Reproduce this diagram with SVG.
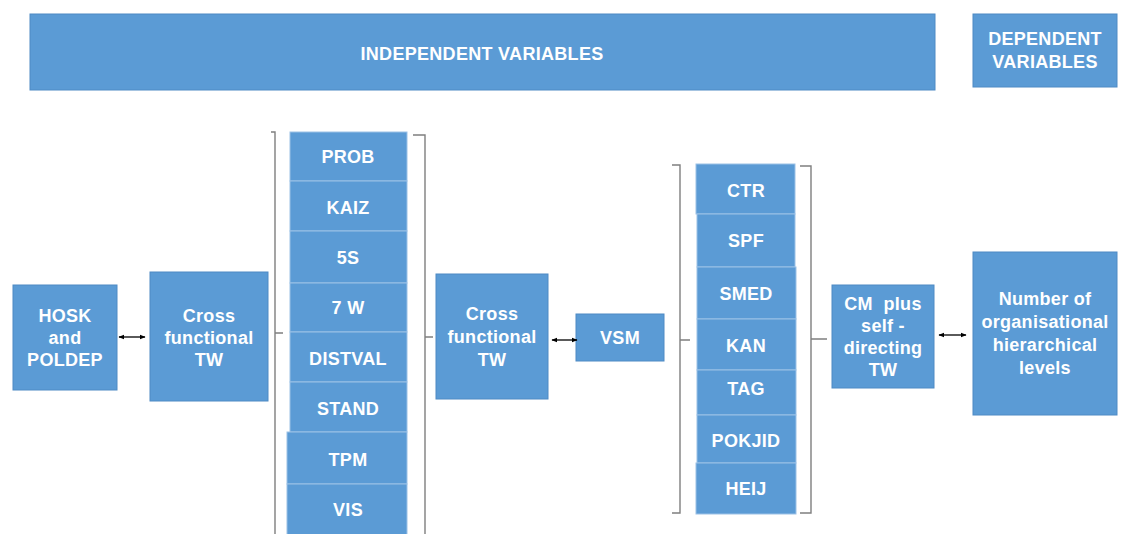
<svg xmlns="http://www.w3.org/2000/svg" width="1136" height="534" viewBox="0 0 1136 534">
  <style>
    .box { fill: #5b9bd5; stroke: #4e8ac4; stroke-width: 1; }
    .cell { fill: #5b9bd5; stroke: #9cc1e6; stroke-width: 1; }
    .lbl { font-family: "Liberation Sans", Arial, sans-serif; font-weight: bold; font-size: 18px; letter-spacing: 0.3px; fill: #ffffff; text-anchor: middle; }
    .brace { fill: none; stroke: #7f7f7f; stroke-width: 1.4; }
    .link { fill: none; stroke: #000000; stroke-width: 1.3; marker-start: url(#head); marker-end: url(#head); }
  </style>
  <defs>
    <marker id="head" viewBox="0 0 10 10" refX="9" refY="5" markerWidth="6" markerHeight="6" orient="auto-start-reverse" markerUnits="userSpaceOnUse">
      <path d="M0,1 L10,5 L0,9 z" fill="#000000"/>
    </marker>
  </defs>
  <rect width="1136" height="534" fill="#ffffff"/>

  <!-- headers -->
  <g id="independent">
    <rect class="box" x="30" y="14" width="905" height="76"/>
    <text class="lbl" x="482" y="60">INDEPENDENT VARIABLES</text>
  </g>
  <g id="dependent">
    <rect class="box" x="973" y="14" width="144" height="73"/>
    <text class="lbl" x="1045" y="45">DEPENDENT</text>
    <text class="lbl" x="1045" y="68">VARIABLES</text>
  </g>

  <!-- left side -->
  <g id="hosk">
    <rect class="box" x="13" y="285" width="104" height="105"/>
    <text class="lbl" x="65" y="322">HOSK</text>
    <text class="lbl" x="65" y="344">and</text>
    <text class="lbl" x="65" y="366">POLDEP</text>
  </g>
  <g id="cftw1">
    <rect class="box" x="150" y="272" width="118" height="129"/>
    <text class="lbl" x="209" y="322">Cross</text>
    <text class="lbl" x="209" y="344">functional</text>
    <text class="lbl" x="209" y="366">TW</text>
  </g>

  <!-- first practice stack -->
  <g id="stack1">
    <g id="prob"><rect class="cell" x="290" y="132" width="117" height="49"/><text class="lbl" x="348" y="163">PROB</text></g>
    <g id="kaiz"><rect class="cell" x="290" y="181" width="117" height="50"/><text class="lbl" x="348" y="214">KAIZ</text></g>
    <g id="fives"><rect class="cell" x="290" y="231" width="117" height="52"/><text class="lbl" x="348" y="264">5S</text></g>
    <g id="sevenw"><rect class="cell" x="290" y="283" width="117" height="49"/><text class="lbl" x="348" y="314">7 W</text></g>
    <g id="distval"><rect class="cell" x="290" y="332" width="117" height="50"/><text class="lbl" x="348" y="365">DISTVAL</text></g>
    <g id="stand"><rect class="cell" x="290" y="382" width="117" height="50"/><text class="lbl" x="348" y="415">STAND</text></g>
    <g id="tpm"><rect class="cell" x="287" y="432" width="120" height="52"/><text class="lbl" x="348" y="466">TPM</text></g>
    <g id="vis"><rect class="cell" x="287" y="484" width="120" height="52"/><text class="lbl" x="348" y="516">VIS</text></g>
  </g>

  <g id="cftw2">
    <rect class="box" x="436" y="274" width="112" height="125"/>
    <text class="lbl" x="492" y="320">Cross</text>
    <text class="lbl" x="492" y="343">functional</text>
    <text class="lbl" x="492" y="366">TW</text>
  </g>
  <g id="vsm">
    <rect class="box" x="576" y="314" width="88" height="47"/>
    <text class="lbl" x="620" y="344">VSM</text>
  </g>

  <!-- second practice stack -->
  <g id="stack2">
    <g id="ctr"><rect class="cell" x="696" y="164" width="99" height="50"/><text class="lbl" x="746" y="197">CTR</text></g>
    <g id="spf"><rect class="cell" x="697" y="214" width="98" height="53"/><text class="lbl" x="746" y="247">SPF</text></g>
    <g id="smed"><rect class="cell" x="697" y="267" width="99" height="52"/><text class="lbl" x="746" y="300">SMED</text></g>
    <g id="kan"><rect class="cell" x="697" y="319" width="99" height="51"/><text class="lbl" x="746" y="352">KAN</text></g>
    <g id="tag"><rect class="cell" x="697" y="370" width="99" height="45"/><text class="lbl" x="746" y="395">TAG</text></g>
    <g id="pokjid"><rect class="cell" x="697" y="415" width="99" height="48"/><text class="lbl" x="746" y="447">POKJID</text></g>
    <g id="heij"><rect class="cell" x="696" y="463" width="100" height="51"/><text class="lbl" x="746" y="495">HEIJ</text></g>
  </g>

  <g id="cmplus">
    <rect class="box" x="832" y="285" width="102" height="103"/>
    <text class="lbl" x="883" y="310" style="white-space: pre">CM  plus</text>
    <text class="lbl" x="883" y="332">self -</text>
    <text class="lbl" x="883" y="354">directing</text>
    <text class="lbl" x="883" y="376">TW</text>
  </g>
  <g id="levels">
    <rect class="box" x="973" y="252" width="144" height="163"/>
    <text class="lbl" x="1045" y="305">Number of</text>
    <text class="lbl" x="1045" y="328">organisational</text>
    <text class="lbl" x="1045" y="351">hierarchical</text>
    <text class="lbl" x="1045" y="374">levels</text>
  </g>

  <!-- braces and links -->
  <g id="connectors">
    <path class="brace" d="M271,132 H275 V534 M275,333 H283"/>
    <path class="brace" d="M413,135 H425 V534 M425,337 H433"/>
    <path class="brace" d="M672,165 H680 V513 H672 M680,340 H690"/>
    <path class="brace" d="M800,166 H811 V513 H800 M811,339 H827"/>
    <line class="link" x1="119" y1="337" x2="145" y2="337"/>
    <line class="link" x1="552" y1="340" x2="577" y2="340"/>
    <line class="link" x1="939" y1="335" x2="966" y2="335"/>
  </g>
</svg>
